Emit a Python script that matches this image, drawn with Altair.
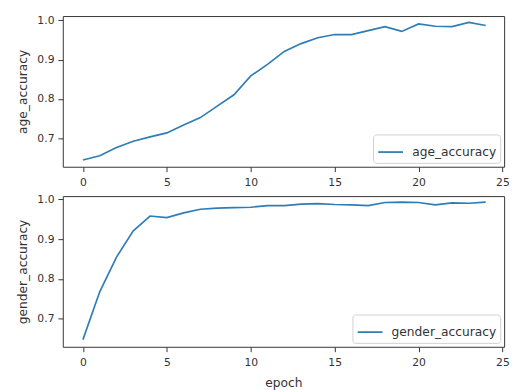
import altair as alt
import pandas as pd

epochs = list(range(25))
age_accuracy = [0.645, 0.656, 0.677, 0.693, 0.704, 0.714, 0.734, 0.753, 0.782, 0.811,
                0.859, 0.888, 0.921, 0.941, 0.956, 0.964, 0.964, 0.974, 0.984, 0.972,
                0.991, 0.985, 0.984, 0.995, 0.987]
gender_accuracy = [0.648, 0.768, 0.855, 0.921, 0.958, 0.954, 0.966, 0.975, 0.978, 0.979,
                   0.980, 0.984, 0.984, 0.988, 0.989, 0.987, 0.986, 0.984, 0.992, 0.993,
                   0.992, 0.986, 0.991, 0.990, 0.993]
x_ticks = [0, 5, 10, 15, 20, 25]
y_ticks = [0.7, 0.8, 0.9, 1.0]

FONT = "DejaVu Sans"
LINE = "#2f7db5"
W, H = 451, 154

df_age = pd.DataFrame({"epoch": epochs, "age_accuracy": age_accuracy, "series": "age_accuracy"})
df_gender = pd.DataFrame({"epoch": epochs, "gender_accuracy": gender_accuracy, "series": "gender_accuracy"})


def legend():
    return alt.Legend(
        title=None, orient="bottom-right", offset=4,
        symbolType="stroke", symbolSize=640, symbolStrokeWidth=1.8,
        labelFont=FONT, labelFontSize=12.5, labelColor="#333", labelOffset=8,
        fillColor="white", strokeColor="#d0d0d0", cornerRadius=3, padding=4,
    )


def panel(df, field, ydom, xtitle):
    return alt.Chart(df).mark_line(strokeWidth=1.7).encode(
        x=alt.X("epoch:Q", scale=alt.Scale(domain=[-1.2, 25.1], nice=False, zero=False),
                axis=alt.Axis(values=x_ticks, title=xtitle, format="d")),
        y=alt.Y(f"{field}:Q", scale=alt.Scale(domain=ydom, nice=False, zero=False),
                axis=alt.Axis(values=y_ticks, title=field, format=".1f")),
        color=alt.Color("series:N", scale=alt.Scale(range=[LINE]), legend=legend()),
    ).properties(width=W, height=H)


top = panel(df_age, "age_accuracy", [0.628, 1.011], None)
bottom = panel(df_gender, "gender_accuracy", [0.630, 1.008], "epoch")

chart = alt.vconcat(top, bottom, spacing=4).resolve_scale(color="independent").resolve_legend(
    color="independent"
).properties(
    padding={"left": 8, "top": 1, "right": 0, "bottom": 0}
).configure_view(
    stroke="#333", strokeWidth=1
).configure_axis(
    grid=False, domain=False, tickColor="#333", tickSize=5,
    labelFont=FONT, labelFontSize=11, labelColor="#333", labelPadding=4,
    titleFont=FONT, titleFontSize=12.5, titleColor="#333", titleFontWeight="normal",
    titlePadding=8,
).configure_axisX(labelPadding=5, titlePadding=10)

chart.save("out.html", embed_options={"renderer": "svg", "actions": False})
